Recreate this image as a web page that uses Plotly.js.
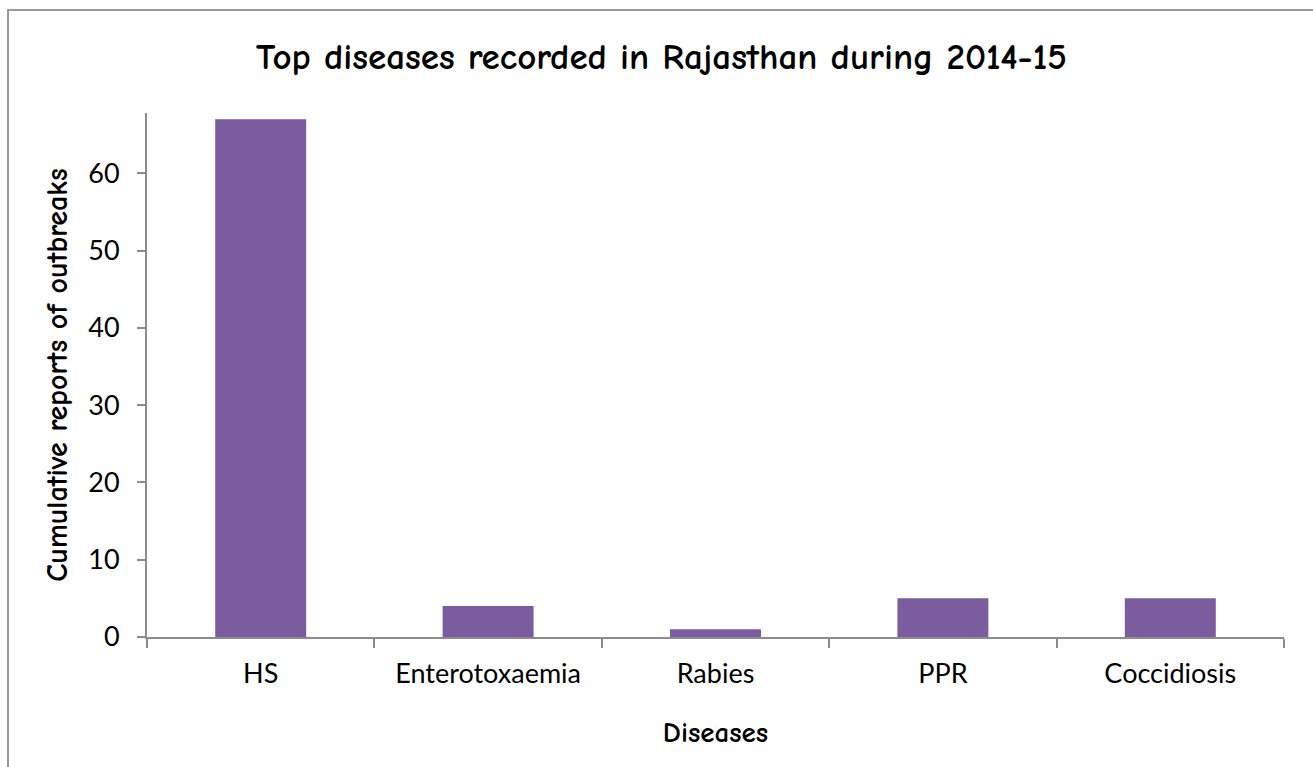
<!DOCTYPE html>
<html>
<head>
<meta charset="utf-8">
<script src="https://cdn.plot.ly/plotly-3.0.1.min.js"></script>
<style>
html,body{margin:0;padding:0;background:#fff;}
#frame{position:absolute;left:7px;top:9px;width:1320px;height:780px;border-left:2px solid #9a9a9a;border-top:2px solid #9a9a9a;}
#chart{position:absolute;left:0;top:0;width:1313px;height:767px;}
</style>
</head>
<body>
<div id="frame"></div>
<div id="chart"></div>
<script>
const categories = ["HS", "Enterotoxaemia", "Rabies", "PPR", "Coccidiosis"];
const outbreaks = [67, 4, 1, 5, 5];
const yTicks = [0, 10, 20, 30, 40, 50, 60];

const titleFont = "'Comic Sans MS', 'Comic Neue', 'DejaVu Sans Condensed', 'Noto Sans', sans-serif";
const tickFont = "Lato, Calibri, 'Open Sans', sans-serif";

const trace = {
  type: "bar",
  x: categories,
  y: outbreaks,
  marker: {color: "#7B5C9E", line: {width: 0}},
  hoverinfo: "x+y"
};

const layout = {
  width: 1313,
  height: 767,
  paper_bgcolor: "rgba(0,0,0,0)",
  plot_bgcolor: "rgba(0,0,0,0)",
  margin: {l: 147, r: 29, t: 113, b: 130},
  bargap: 0.6,
  showlegend: false,
  title: {
    text: "Top diseases recorded in Rajasthan during 2014-15",
    font: {family: titleFont, size: 37, color: "#000", weight: 700},
    x: 0.4525, xanchor: "center", xref: "paper",
    y: 57, yref: "container", yanchor: "middle"
  },
  xaxis: {
    type: "category",
    showline: true, linecolor: "#8c8c8c", linewidth: 2,
    ticks: "outside", tickson: "boundaries", ticklen: 9, tickcolor: "#8c8c8c", tickwidth: 2,
    tickfont: {family: tickFont, size: 27, color: "#000"},
    ticklabelstandoff: 12,
    showgrid: false, zeroline: false,
    title: {text: "Diseases", font: {family: titleFont, size: 29, color: "#000", weight: 700}, standoff: 33}
  },
  yaxis: {
    range: [0, 67.8],
    tickvals: yTicks,
    ticktext: yTicks.map(String),
    showline: true, linecolor: "#8c8c8c", linewidth: 2,
    ticks: "outside", ticklen: 8, tickcolor: "#8c8c8c", tickwidth: 2,
    tickfont: {family: tickFont, size: 27, color: "#000"},
    ticklabelstandoff: 12,
    showgrid: false, zeroline: false,
    title: {text: "Cumulative reports of outbreaks", font: {family: titleFont, size: 30, color: "#000", weight: 700}, standoff: 12}
  }
};

Plotly.newPlot("chart", [trace], layout, {displayModeBar: false, staticPlot: true});
</script>
</body>
</html>
